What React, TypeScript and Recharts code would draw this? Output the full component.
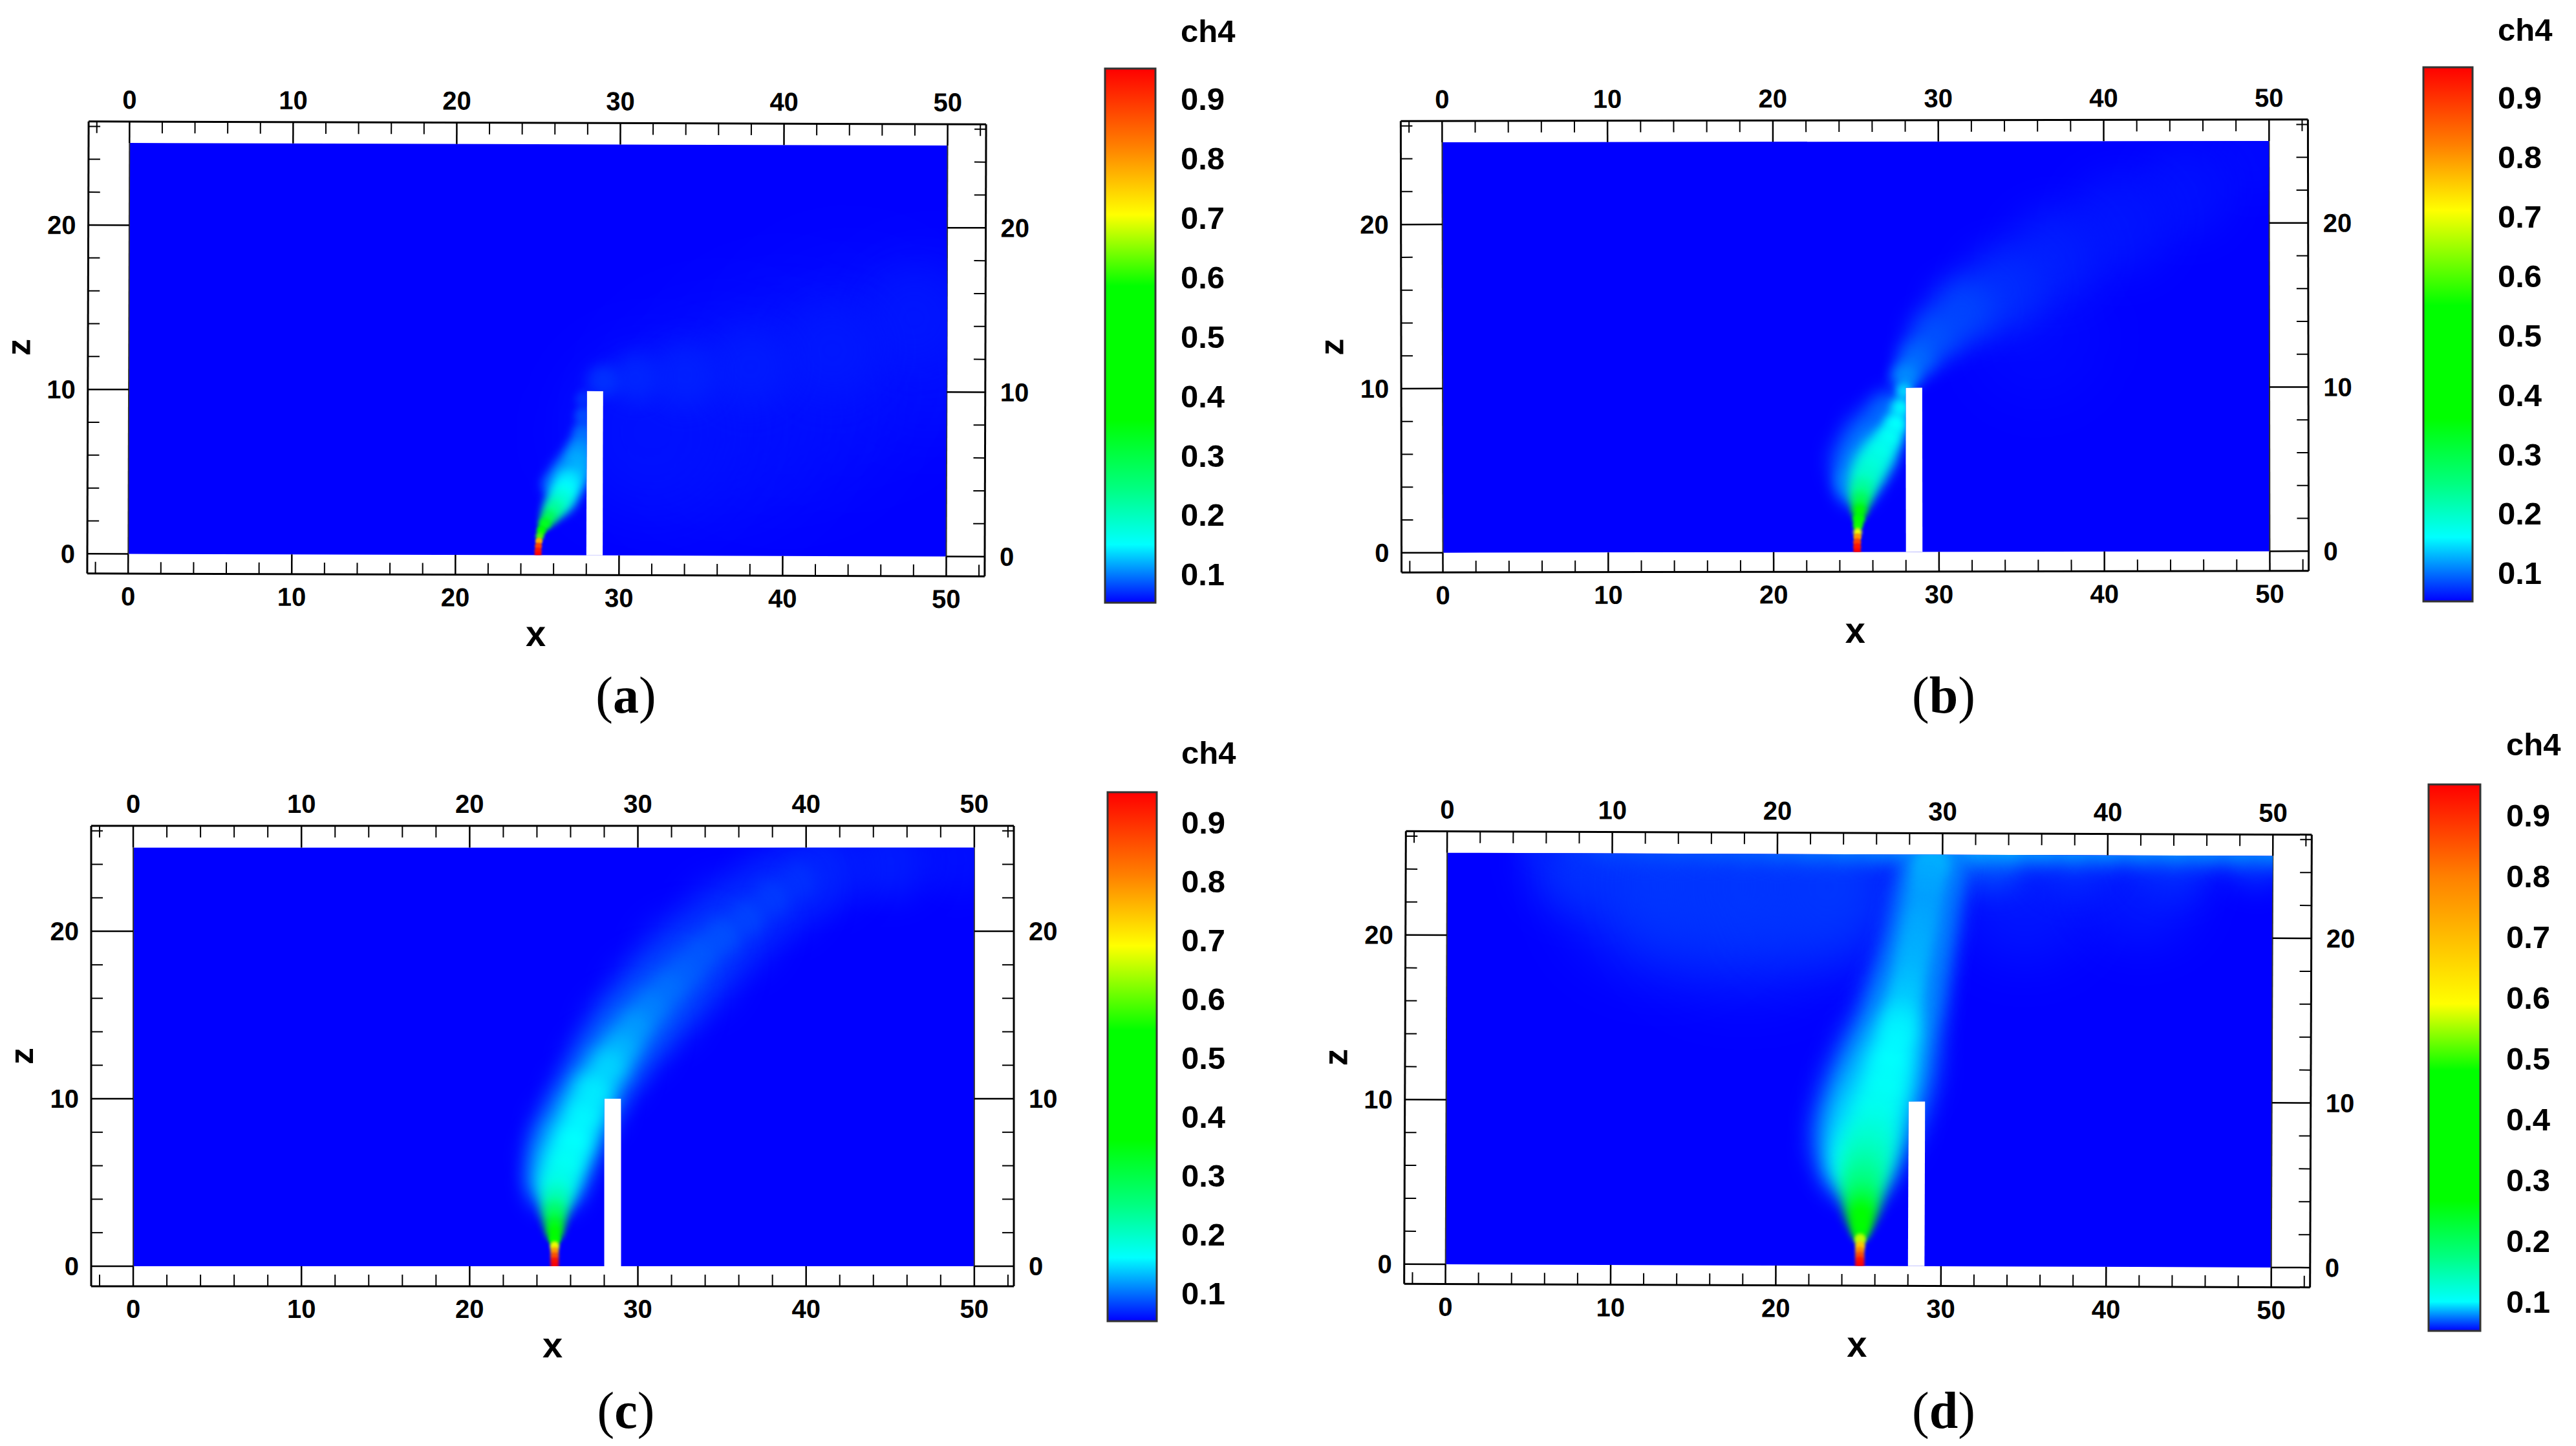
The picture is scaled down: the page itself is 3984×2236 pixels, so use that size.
import { ScatterChart, Scatter, ComposedChart, Bar, XAxis, YAxis, ReferenceArea, ReferenceLine } from "recharts"

// tick values shared by all four contour panels
const xTicks = [-2, 0, 2, 4, 6, 8, 10, 12, 14, 16, 18, 20, 22, 24, 26, 28, 30, 32, 34, 36, 38, 40, 42, 44, 46, 48, 50, 52]
const zTicks = [0, 2, 4, 6, 8, 10, 12, 14, 16, 18, 20, 22, 24, 26]
const barTicks = [0.1, 0.2, 0.3, 0.4, 0.5, 0.6, 0.7, 0.8, 0.9]

// ch4 plume: [x, z, half width, ch4], drawn back to front
const plumeA = [
  [44, 12, 6, 0.056], [49, 13, 5, 0.057], [40, 10, 6, 0.057], [36, 8.5, 6, 0.057], [32, 7.5, 5, 0.058],
  [48, 14.5, 3, 0.06], [43, 12.5, 3, 0.061], [38, 11.5, 2.5, 0.062], [34, 11, 2, 0.064], [31, 10.8, 1.5, 0.066], [29, 10.6, 1, 0.07],
  [27.8, 9.5, 0.5, 0.07], [27.8, 8.5, 0.55, 0.08], [27.8, 7.5, 0.65, 0.09], [27.7, 6.7, 0.75, 0.1], [27.5, 6, 0.85, 0.11], [27.3, 5.3, 1, 0.12],
  [25.9, 4.3, 0.7, 0.085], [26.6, 4.8, 0.9, 0.1],
  [27, 4.6, 0.85, 0.135], [26.7, 3.9, 0.85, 0.15], [26.4, 3.3, 0.8, 0.18], [26, 2.8, 0.65, 0.22], [25.7, 2.3, 0.5, 0.28], [25.45, 1.9, 0.4, 0.33],
  [25.25, 1.5, 0.3, 0.42], [25.15, 1.15, 0.25, 0.62], [25.1, 0.85, 0.22, 0.78], [25.07, 0.55, 0.22, 0.88], [25.05, 0.25, 0.22, 0.93], [25.05, 0, 0.22, 0.95],
]
const plumeB = [
  [36, 13, 4, 0.055], [49, 24, 2.4, 0.055], [45, 22, 2.8, 0.058], [41, 20, 3, 0.06], [37, 18, 2.8, 0.064], [34, 16, 2.5, 0.07],
  [31.5, 14.7, 2, 0.08], [29.8, 13.2, 1.6, 0.085], [28.7, 11.8, 1.2, 0.095], [28, 10.7, 0.9, 0.11],
  [27, 8.5, 1.3, 0.095], [26, 7, 1.6, 0.1], [25.2, 5.5, 1.6, 0.105], [24.8, 4.5, 1, 0.1], [25, 4, 1.2, 0.11],
  [27.9, 9.8, 0.5, 0.14], [27.7, 8.8, 0.6, 0.155], [27.4, 7.8, 0.7, 0.16], [27, 7, 0.8, 0.165], [26.5, 6.2, 0.95, 0.17], [26, 5.4, 1.05, 0.18],
  [25.6, 4.6, 0.95, 0.195], [25.35, 3.8, 0.75, 0.23], [25.25, 3.1, 0.6, 0.29], [25.2, 2.5, 0.47, 0.36], [25.15, 2, 0.38, 0.44],
  [25.1, 1.6, 0.3, 0.56], [25.08, 1.2, 0.26, 0.7], [25.07, 0.9, 0.24, 0.8], [25.05, 0.6, 0.24, 0.88], [25.05, 0.3, 0.24, 0.93], [25.05, 0, 0.24, 0.95],
]
const plumeC = [
  [49, 24.4, 2.2, 0.058], [45, 24.2, 2.3, 0.063], [41, 23.7, 2.4, 0.066], [38.3, 22.3, 2.5, 0.069], [35.5, 20.3, 2.6, 0.074], [33, 18, 2.6, 0.082],
  [31, 15.8, 2.4, 0.09], [29.3, 13.8, 2.2, 0.1], [28, 11.8, 2, 0.11], [26.9, 9.8, 1.9, 0.12], [26, 8, 1.9, 0.125], [25.4, 6.5, 1.8, 0.13], [25.1, 5, 1.6, 0.135],
  [39.5, 23, 1, 0.072], [38, 22, 1, 0.076], [36.5, 20.8, 1, 0.08], [35, 19.7, 1, 0.085], [33.8, 18.7, 1, 0.088], [32.8, 17.6, 1, 0.092], [31.8, 16.6, 1, 0.098], [30.8, 15.5, 1, 0.105],
  [29.9, 14.4, 1, 0.115], [29.1, 13.2, 1.05, 0.125], [28.3, 12, 1.1, 0.14], [27.4, 10.5, 1.2, 0.15], [26.8, 9, 1.2, 0.155], [26.2, 7.5, 1.2, 0.16], [25.7, 6.2, 1.15, 0.165], [25.3, 5, 1.05, 0.175],
  [25.15, 4, 0.9, 0.21], [25.05, 3.2, 0.75, 0.27], [25.05, 2.5, 0.6, 0.33], [25.05, 2, 0.48, 0.4], [25.05, 1.6, 0.36, 0.52],
  [25.05, 1.2, 0.28, 0.68], [25.05, 0.9, 0.25, 0.78], [25.05, 0.6, 0.25, 0.86], [25.05, 0.3, 0.25, 0.93], [25.05, 0, 0.25, 0.95],
]
const plumeD = [
  [8, 24.5, 3, 0.06], [13, 23.5, 5, 0.062], [18, 23, 5.5, 0.062], [23, 23, 4.5, 0.062], [35, 22.5, 4, 0.056], [42, 23, 3.5, 0.056],
  [33, 25, 2.2, 0.066], [38, 25, 2.5, 0.06], [44, 25, 2.5, 0.06], [49, 25, 2, 0.06],
  [6, 26, 1.5, 0.058], [8, 26, 1.5, 0.062], [10, 26, 1.5, 0.066], [12, 26, 1.5, 0.067], [14, 26, 1.5, 0.068], [16, 26, 1.5, 0.069], [18, 26, 1.5, 0.07],
  [20, 26, 1.5, 0.072], [22, 26, 1.5, 0.074], [24, 26, 1.5, 0.076], [26, 26, 1.5, 0.078], [28, 26, 1.5, 0.082], [30, 26, 1.5, 0.085], [32, 26, 1.5, 0.085],
  [34, 26, 1.5, 0.085], [36, 26, 1.5, 0.083], [38, 26, 1.5, 0.082], [40, 26, 1.5, 0.081], [42, 26, 1.5, 0.08], [44, 26, 1.5, 0.08], [46, 26, 1.5, 0.08], [48, 26, 1.5, 0.08], [50, 26, 1.5, 0.08],
  [29.6, 24.5, 1.6, 0.078], [29.4, 23.7, 1.7, 0.076], [29.2, 23, 1.7, 0.075], [29.05, 22, 1.8, 0.075], [28.9, 21, 1.8, 0.075], [28.7, 20, 1.8, 0.076], [28.5, 19, 1.8, 0.076],
  [28.25, 18, 1.9, 0.076], [28, 17, 2, 0.076], [27.75, 16, 2, 0.077], [27.5, 15, 2.1, 0.078],
  [27, 13.5, 2.3, 0.082], [26.6, 12, 2.5, 0.085], [26, 10.5, 2.5, 0.088], [25.5, 9, 2.5, 0.09], [25, 7.5, 2.3, 0.094], [24.9, 6, 1.8, 0.1],
  [29.4, 24.6, 1, 0.086], [29.2, 24, 1, 0.084], [29.05, 23, 1, 0.083], [28.9, 22, 1, 0.082], [28.7, 21, 1, 0.083], [28.5, 20, 1, 0.084], [28.3, 19, 1, 0.085],
  [28.1, 18, 1, 0.086], [27.9, 17, 1, 0.088], [27.7, 16, 1.05, 0.09], [27.5, 15, 1.1, 0.094], [27.3, 14, 1.25, 0.098],
  [26.9, 12.5, 1.35, 0.1], [26.6, 11, 1.4, 0.103], [26.1, 9.5, 1.45, 0.107], [25.8, 8, 1.5, 0.118], [25.5, 6.8, 1.5, 0.135], [25.3, 5.6, 1.35, 0.158],
  [25.2, 4.6, 1.2, 0.18], [25.2, 3.8, 1, 0.22], [25.15, 3.1, 0.85, 0.28], [25.15, 2.5, 0.65, 0.36], [25.12, 2, 0.5, 0.46], [25.1, 1.6, 0.36, 0.56],
  [25.1, 1.2, 0.3, 0.68], [25.08, 0.9, 0.28, 0.78], [25.08, 0.6, 0.28, 0.86], [25.08, 0.3, 0.28, 0.93], [25.08, 0, 0.28, 0.95],
]

// colour legend levels per panel
const levelColors = ["#0000ff", "#00ffff", "#00ff80", "#00ff00", "#00ff00", "#ffff00", "#ff8000", "#ff0000"]
const levelsA = [0.052, 0.15, 0.245, 0.36, 0.585, 0.705, 0.82, 0.951]
const levelsB = [0.052, 0.16, 0.25, 0.36, 0.55, 0.71, 0.82, 0.951]
const levelsC = [0.052, 0.16, 0.25, 0.36, 0.546, 0.69, 0.81, 0.951]
const levelsD = [0.052, 0.1, 0.175, 0.266, 0.48, 0.59, 0.8, 0.951]

const xMin = -2.5
const xMax = 52.35
const zMin = -1.2
const zMax = 26.3
const rightW = 90
const topH = 70
const bottomH = 130
const font = "'Liberation Sans', Arial, sans-serif"

const hexRgb = (h: string) => [1, 3, 5].map((i) => parseInt(h.slice(i, i + 2), 16))

function levelColor(levels: number[], v: number) {
  let i = 0
  while (i < levels.length - 2 && v > levels[i + 1]) i++
  const t = Math.max(0, Math.min(1, (v - levels[i]) / (levels[i + 1] - levels[i])))
  const a = hexRgb(levelColors[i])
  const b = hexRgb(levelColors[i + 1])
  return `rgb(${a.map((c, k) => Math.round(c + (b[k] - c) * t)).join(",")})`
}

function FrameTick(props: any) {
  const { x, y, payload, side, major } = props
  const v = payload.value
  const isMajor = v % 10 === 0
  const len = isMajor ? major : 18
  const lw = isMajor ? 2.5 : 2
  const txt = { fontFamily: font, fontWeight: 700, fontSize: 40, fill: "#000" }
  if (side === "bottom") {
    return (
      <g>
        <line x1={x} x2={x} y1={y} y2={y - len} stroke="#000" strokeWidth={lw} />
        {isMajor && <text x={x} y={y + 49} textAnchor="middle" {...txt}>{v}</text>}
      </g>
    )
  }
  if (side === "top") {
    return (
      <g>
        <line x1={x} x2={x} y1={y} y2={y + len} stroke="#000" strokeWidth={lw} />
        {isMajor && <text x={x} y={y - 20} textAnchor="middle" {...txt}>{v}</text>}
      </g>
    )
  }
  if (side === "left") {
    return (
      <g>
        <line x1={x} x2={x + len} y1={y} y2={y} stroke="#000" strokeWidth={lw} />
        {isMajor && <text x={x - 19} y={y + 14} textAnchor="end" {...txt}>{v}</text>}
      </g>
    )
  }
  return (
    <g>
      <line x1={x} x2={x - len} y1={y} y2={y} stroke="#000" strokeWidth={lw} />
      {isMajor && <text x={x + 23} y={y + 14} textAnchor="start" {...txt}>{v}</text>}
    </g>
  )
}

function ContourPanel({ id, left, right, top, bottom, tilt, plume, levels, leftW = 160 }: any) {
  const plotW = right - left
  const plotH = bottom - top
  const kx = plotW / (xMax - xMin)
  const kz = plotH / (zMax - zMin)
  const px = (v: number) => leftW + (v - xMin) * kx
  const py = (v: number) => topH + (zMax - v) * kz
  const data = plume.map(([x, z, r, c]: number[]) => ({ x, z, r, c }))
  const clipId = `domain-${id}`
  const domainPath =
    `M${px(0)} ${py(25)}H${px(50)}V${py(0)}H${px(0)}Z` +
    `M${px(28)} ${py(10)}H${px(29)}V${py(0)}H${px(28)}Z`

  return (
    <div
      style={{
        position: "absolute",
        left: left - leftW,
        top: top - topH,
        width: plotW + leftW + rightW,
        height: plotH + topH + bottomH,
        transform: `rotate(${tilt}deg)`,
        transformOrigin: `${leftW + plotW / 2}px ${topH + plotH / 2}px`,
      }}
    >
      <ScatterChart
        width={plotW + leftW + rightW}
        height={plotH + topH + bottomH}
        margin={{ top: 0, right: 0, bottom: 0, left: 0 }}
      >
        <defs>
          <clipPath id={clipId}>
            <path d={domainPath} clipRule="evenodd" />
          </clipPath>
        </defs>
        <XAxis
          xAxisId="bottom" orientation="bottom" type="number" dataKey="x" domain={[xMin, xMax]} ticks={xTicks} interval={0}
          height={bottomH} allowDataOverflow tickSize={0} tickMargin={0} tickLine={false}
          axisLine={{ stroke: "#000", strokeWidth: 3 }}
          tick={<FrameTick side="bottom" major={-zMin * kz} />}
          label={{ value: "x", position: "insideBottom", offset: 20, style: { fontFamily: font, fontWeight: 700, fontSize: 56, fill: "#000" } }}
        />
        <XAxis
          xAxisId="top" orientation="top" type="number" dataKey="x" domain={[xMin, xMax]} ticks={xTicks} interval={0}
          height={topH} allowDataOverflow tickSize={0} tickMargin={0} tickLine={false}
          axisLine={{ stroke: "#000", strokeWidth: 3 }}
          tick={<FrameTick side="top" major={(zMax - 25) * kz} />}
        />
        <YAxis
          yAxisId="left" orientation="left" type="number" dataKey="z" domain={[zMin, zMax]} ticks={zTicks} interval={0}
          width={leftW} allowDataOverflow tickSize={0} tickMargin={0} tickLine={false}
          axisLine={{ stroke: "#000", strokeWidth: 3 }}
          tick={<FrameTick side="left" major={-xMin * kx} />}
          label={{ value: "z", angle: -90, position: "insideLeft", offset: leftW - 108, dy: 13, style: { fontFamily: font, fontWeight: 700, fontSize: 52, fill: "#000" } }}
        />
        <YAxis
          yAxisId="right" orientation="right" type="number" dataKey="z" domain={[zMin, zMax]} ticks={zTicks} interval={0}
          width={rightW} allowDataOverflow tickSize={0} tickMargin={0} tickLine={false}
          axisLine={{ stroke: "#000", strokeWidth: 3 }}
          tick={<FrameTick side="right" major={(xMax - 50) * kx} />}
        />
        <ReferenceArea xAxisId="bottom" yAxisId="left" x1={0} x2={50} y1={0} y2={25} fill="#0000ff" fillOpacity={1} stroke="none" />
        <ReferenceArea xAxisId="bottom" yAxisId="left" x1={28} x2={29} y1={0} y2={10} fill="#fff" fillOpacity={1} stroke="none" />
        <ReferenceLine xAxisId="bottom" yAxisId="left" segment={[{ x: 0, y: 0 }, { x: 0, y: 25 }]} stroke="#333" strokeWidth={2} />
        <ReferenceLine xAxisId="bottom" yAxisId="left" segment={[{ x: 50, y: 0 }, { x: 50, y: 25 }]} stroke="#333" strokeWidth={2} />
        <Scatter
          xAxisId="bottom" yAxisId="left" data={data} isAnimationActive={false}
          shape={(p: any) => {
            const r = p.payload.r * kx
            const sd = r < 12 ? r * 0.3 : r * 0.4
            return (
              <circle
                cx={p.cx} cy={p.cy} r={r}
                fill={levelColor(levels, p.payload.c)}
                clipPath={`url(#${clipId})`}
                style={{ filter: `blur(${sd}px)` }}
              />
            )
          }}
        />
      </ScatterChart>
    </div>
  )
}

function ColorBar({ id, left, right, top, bottom, labelX, titleY, levels }: any) {
  const pad = 3
  const span = levels[levels.length - 1] - levels[0]
  const gradId = `bar-${id}`
  return (
    <>
      <div style={{ position: "absolute", left: left - pad, top: top - pad }}>
        <ComposedChart
          width={right - left + pad + 170}
          height={bottom - top + 2 * pad}
          data={[{ name: "ch4", range: [levels[0], levels[levels.length - 1]] }]}
          margin={{ top: pad, right: 0, bottom: pad, left: pad }}
          barCategoryGap={0}
        >
          <defs>
            <linearGradient id={gradId} x1="0" y1="1" x2="0" y2="0">
              {levels.map((v: number, i: number) => (
                <stop key={i} offset={(v - levels[0]) / span} stopColor={levelColors[i]} />
              ))}
            </linearGradient>
          </defs>
          <XAxis dataKey="name" type="category" hide />
          <YAxis
            orientation="right" type="number" domain={[levels[0], levels[levels.length - 1]]} ticks={barTicks} interval={0}
            width={170} axisLine={false} tickLine={false} tickSize={0} tickMargin={labelX - right}
            tickFormatter={(v: number) => v.toFixed(1)}
            tick={{ fontFamily: font, fontWeight: 700, fontSize: 49, fill: "#000" }}
          />
          <Bar dataKey="range" fill={`url(#${gradId})`} stroke="#333" strokeWidth={3} isAnimationActive={false} />
        </ComposedChart>
      </div>
      <div
        style={{
          position: "absolute", left: labelX, top: titleY - 28, lineHeight: "56px",
          fontFamily: font, fontWeight: 700, fontSize: 49, color: "#000",
        }}
      >
        ch4
      </div>
    </>
  )
}

function Caption({ cx, cy, letter }: any) {
  return (
    <div
      style={{
        position: "absolute", left: cx - 100, width: 200, top: cy - 52, lineHeight: "100px", textAlign: "center",
        fontFamily: "'Liberation Serif', serif", fontSize: 80, color: "#000",
      }}
    >
      (<b>{letter}</b>)
    </div>
  )
}

export default function App() {
  return (
    <div style={{ position: "absolute", left: 0, top: 0, width: 3984, height: 2236, background: "#fff", overflow: "hidden" }}>
      <ContourPanel id="a" left={136} right={1524} top={190} bottom={889} tilt={0.18} plume={plumeA} levels={levelsA} leftW={136} />
      <ContourPanel id="b" left={2167} right={3570} top={186} bottom={884} tilt={-0.1} plume={plumeB} levels={levelsB} />
      <ContourPanel id="c" left={141} right={1568} top={1277} bottom={1989} tilt={0} plume={plumeC} levels={levelsC} leftW={141} />
      <ContourPanel id="d" left={2173} right={3574} top={1288} bottom={1988} tilt={0.22} plume={plumeD} levels={levelsD} />
      <ColorBar id="a" left={1709} right={1787} top={106} bottom={932} labelX={1826} titleY={48} levels={levelsA} />
      <ColorBar id="b" left={3748} right={3824} top={104} bottom={930} labelX={3863} titleY={46} levels={levelsB} />
      <ColorBar id="c" left={1713} right={1789} top={1225} bottom={2043} labelX={1827} titleY={1164} levels={levelsC} />
      <ColorBar id="d" left={3756} right={3836} top={1213} bottom={2058} labelX={3876} titleY={1151} levels={levelsD} />
      <Caption cx={968} cy={1077} letter="a" />
      <Caption cx={3006} cy={1077} letter="b" />
      <Caption cx={968} cy={2183} letter="c" />
      <Caption cx={3006} cy={2183} letter="d" />
    </div>
  )
}
